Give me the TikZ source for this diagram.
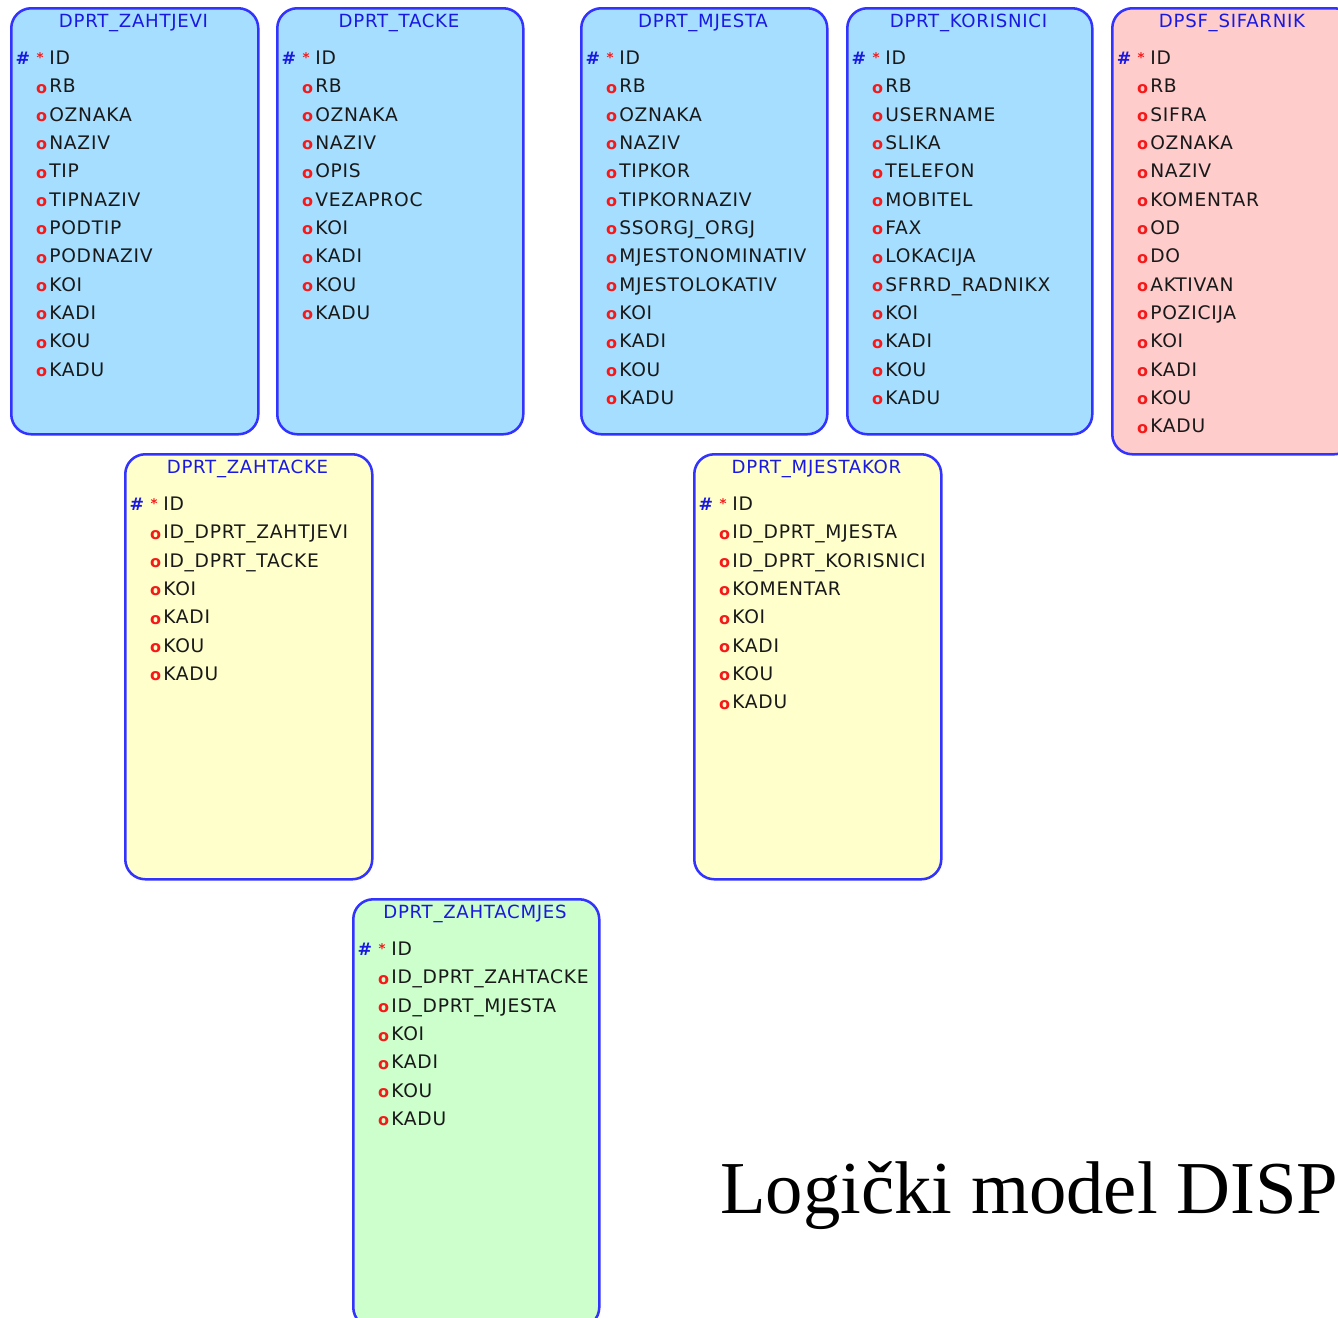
\documentclass[tikz,border=0pt]{standalone}
\usepackage{fontspec}
\setmainfont{Liberation Serif}
\newfontfamily\tabfont[LetterSpace=4]{DejaVu Sans}
\usetikzlibrary{positioning}

\definecolor{tblblue}{RGB}{166,222,255}
\definecolor{tblpink}{RGB}{255,204,204}
\definecolor{tblyellow}{RGB}{255,255,204}
\definecolor{tblgreen}{RGB}{204,255,204}
\definecolor{tbledge}{RGB}{51,51,255}
\definecolor{tbltitle}{RGB}{25,25,225}
\definecolor{mkred}{RGB}{245,25,25}
\definecolor{fldgrey}{RGB}{25,25,25}

\tikzset{
  entbox/.style={draw=tbledge, line width=1.9pt, rounded corners=15pt, anchor=north west, inner sep=0pt},
  enttitle/.style={font=\tabfont\fontsize{13.6}{15}\selectfont, text=tbltitle, anchor=base, inner sep=0pt},
  fldtext/.style={font=\tabfont\fontsize{14}{16}\selectfont, text=fldgrey, anchor=base west, inner sep=0pt},
  fldmark/.style={font=\tabfont\bfseries\fontsize{12}{14}\selectfont, text=mkred, anchor=base, inner sep=0pt},
  keymark/.style={font=\tabfont\bfseries\fontsize{13}{15}\selectfont, text=tbltitle, anchor=base, inner sep=0pt},
  reqmark/.style={font=\tabfont\bfseries\fontsize{10}{11}\selectfont, text=mkred, anchor=base, inner sep=0pt}
}

% entity: name, x, y, width, height, fill, title, columns
\newcommand{\entity}[8]{%
  \node[entbox, fill=#6, minimum width=#4*0.75pt, minimum height=#5*0.75pt] (#1) at (#2,#3) {};
  \node[enttitle] (#1-title) at (#2+#4/2,#3+20.5) {#7};
  % primary key
  \node[keymark] (#1-key) at (#2+13,#3+57.5) {\#};
  \node[reqmark] (#1-req) at (#2+30,#3+55) {*};
  \node[fldtext] (#1-f0) at (#2+39,#3+57.5) {ID};
  % other columns
  \foreach \fld [count=\k] in {#8} {
    \node[fldmark] (#1-m\k) at (#2+31.5,#3+58+\k*28.33) {o};
    \node[fldtext] (#1-f\k) at (#2+39,#3+57.5+\k*28.33) {\fld};
  }%
}

\begin{document}
\begin{tikzpicture}[x=0.75pt, y=-0.75pt]
  \useasboundingbox (0,0) rectangle (1338,1317);
  \clip (0,0) rectangle (1338,1317);
  \fill[white] (0,0) rectangle (1338,1317);

  % top row
  \entity{zahtjevi}{10}{7}{247}{426}{tblblue}{DPRT\_ZAHTJEVI}
    {RB,OZNAKA,NAZIV,TIP,TIPNAZIV,PODTIP,PODNAZIV,KOI,KADI,KOU,KADU}
  \entity{tacke}{276}{7}{246}{426}{tblblue}{DPRT\_TACKE}
    {RB,OZNAKA,NAZIV,OPIS,VEZAPROC,KOI,KADI,KOU,KADU}
  \entity{mjesta}{580}{7}{246}{426}{tblblue}{DPRT\_MJESTA}
    {RB,OZNAKA,NAZIV,TIPKOR,TIPKORNAZIV,SSORGJ\_ORGJ,MJESTONOMINATIV,MJESTOLOKATIV,KOI,KADI,KOU,KADU}
  \entity{korisnici}{846}{7}{245}{426}{tblblue}{DPRT\_KORISNICI}
    {RB,USERNAME,SLIKA,TELEFON,MOBITEL,FAX,LOKACIJA,SFRRD\_RADNIKX,KOI,KADI,KOU,KADU}
  \entity{sifarnik}{1111}{7}{242}{446}{tblpink}{DPSF\_SIFARNIK}
    {RB,SIFRA,OZNAKA,NAZIV,KOMENTAR,OD,DO,AKTIVAN,POZICIJA,KOI,KADI,KOU,KADU}

  % link tables
  \entity{zahtacke}{124}{453}{247}{425}{tblyellow}{DPRT\_ZAHTACKE}
    {ID\_DPRT\_ZAHTJEVI,ID\_DPRT\_TACKE,KOI,KADI,KOU,KADU}
  \entity{mjestakor}{693}{453}{247}{425}{tblyellow}{DPRT\_MJESTAKOR}
    {ID\_DPRT\_MJESTA,ID\_DPRT\_KORISNICI,KOMENTAR,KOI,KADI,KOU,KADU}
  \entity{zahtacmjes}{352}{898}{246}{428}{tblgreen}{DPRT\_ZAHTACMJES}
    {ID\_DPRT\_ZAHTACKE,ID\_DPRT\_MJESTA,KOI,KADI,KOU,KADU}

  % caption
  \node[anchor=base west, inner sep=0pt, font=\fontsize{56}{62}\selectfont] (caption) at (720,1213) {Logički model DISP};
\end{tikzpicture}
\end{document}
